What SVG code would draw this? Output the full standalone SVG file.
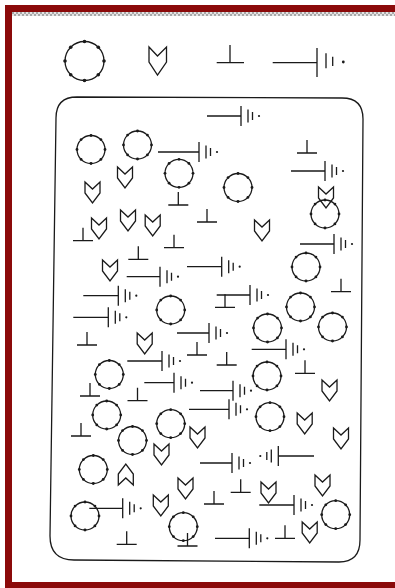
<svg xmlns="http://www.w3.org/2000/svg" xmlns:xlink="http://www.w3.org/1999/xlink" width="395" height="588" viewBox="0 0 395 588">
<style>
.s{fill:none;stroke:#1a1a1a;stroke-width:1.3;stroke-linecap:butt;stroke-linejoin:miter}
.d{fill:#1a1a1a;stroke:none}
.frame{fill:#8b0a0a}
</style>
<defs>
<pattern id="chk" width="4" height="4" patternUnits="userSpaceOnUse">
<rect width="4" height="4" fill="#e4e4e4"/>
<rect width="2" height="2" fill="#a8a8a8"/>
<rect x="2" y="2" width="2" height="2" fill="#a8a8a8"/>
</pattern>
<g id="cir">
<circle class="s" r="14"/>
<circle class="d" cx="14" cy="0" r="1.4"/><circle class="d" cx="-14" cy="0" r="1.4"/>
<circle class="d" cx="0" cy="14" r="1.4"/><circle class="d" cx="0" cy="-14" r="1.4"/>
<circle class="d" cx="9.9" cy="9.9" r="1.4"/><circle class="d" cx="-9.9" cy="9.9" r="1.4"/>
<circle class="d" cx="9.9" cy="-9.9" r="1.4"/><circle class="d" cx="-9.9" cy="-9.9" r="1.4"/>
</g>
<polygon id="chev" class="s" points="-7.5,0 0,7 7.5,0 7.5,11 0,21 -7.5,11"/>
<path id="tee" class="s" d="M0,-13V0M-10,0H10"/>
<g id="bars">
<path class="s" d="M0,-10V10M7,-6.5V6.5M11.5,-4V4"/>
<circle class="d" cx="18" cy="0" r="1.1"/>
</g>
</defs>

<g id="frame">
<rect x="0" y="0" width="395" height="588" fill="#ffffff"/>
<rect class="frame" x="5" y="5" width="390" height="7"/>
<rect x="12" y="12" width="383" height="4" fill="url(#chk)"/>
<rect class="frame" x="5" y="5" width="7" height="583"/>
<rect class="frame" x="5" y="582" width="390" height="6"/>
</g>

<g id="legend">
<g id="legend-circle">
<circle class="s" cx="84.5" cy="61" r="19.5" stroke-width="1.5"/>
<circle class="d" cx="104" cy="61" r="1.8"/><circle class="d" cx="65" cy="61" r="1.8"/>
<circle class="d" cx="84.5" cy="80.5" r="1.8"/><circle class="d" cx="84.5" cy="41.5" r="1.8"/>
<circle class="d" cx="98.3" cy="74.8" r="1.8"/><circle class="d" cx="70.7" cy="74.8" r="1.8"/>
<circle class="d" cx="98.3" cy="47.2" r="1.8"/><circle class="d" cx="70.7" cy="47.2" r="1.8"/>
</g>
<polygon id="legend-chevron" class="s" stroke-width="1.5" points="149,47 157.5,56 166.5,47 166.5,62 157.5,75 149,62"/>
<path id="legend-tee" class="s" stroke-width="1.5" d="M230,45V62.7M216.7,62.7H244"/>
<g id="legend-battery">
<path class="s" stroke-width="1.5" d="M272.7,62.7H317M317,48V77M326,53.3V68.3M332.7,56.7V66"/>
<circle class="d" cx="343.3" cy="62" r="1.4"/>
</g>
</g>

<path id="box" class="s" stroke-width="1.4" d="M77,97 L342,98 Q363,98 363,119 L360,540 Q360,562 339,562 L74,560 Q50,560 50,536 L56,118 Q56,97 77,97 Z"/>

<g id="circles">
<use href="#cir" x="91" y="149.5"/>
<use href="#cir" x="137.5" y="145"/>
<use href="#cir" x="179" y="173.3"/>
<use href="#cir" x="238" y="187.5"/>
<use href="#cir" x="325" y="214"/>
<use href="#cir" x="306" y="267"/>
<use href="#cir" x="170.7" y="310"/>
<use href="#cir" x="300.5" y="307"/>
<use href="#cir" x="267.5" y="328"/>
<use href="#cir" x="332.5" y="327"/>
<use href="#cir" x="109.3" y="374.5"/>
<use href="#cir" x="267" y="376"/>
<use href="#cir" x="106.7" y="415"/>
<use href="#cir" x="170.7" y="423.7"/>
<use href="#cir" x="270" y="416.7"/>
<use href="#cir" x="132.5" y="440.5"/>
<use href="#cir" x="93.3" y="469.5"/>
<use href="#cir" x="85" y="516"/>
<use href="#cir" x="183.3" y="526.7"/>
<use href="#cir" x="335.7" y="514.7"/>
</g>

<g id="chevrons">
<use href="#chev" x="92.5" y="182"/>
<use href="#chev" x="125" y="167"/>
<use href="#chev" x="326" y="187"/>
<use href="#chev" x="99" y="218"/>
<use href="#chev" x="128" y="210"/>
<use href="#chev" x="152.7" y="215"/>
<use href="#chev" x="262" y="220"/>
<use href="#chev" x="110" y="260"/>
<use href="#chev" x="144.7" y="333"/>
<use href="#chev" x="329.5" y="380"/>
<use href="#chev" x="304.7" y="413"/>
<use href="#chev" x="341" y="428"/>
<use href="#chev" x="197.5" y="427"/>
<use href="#chev" x="161.5" y="444"/>
<use href="#chev" x="185.5" y="478"/>
<use href="#chev" x="160.8" y="495"/>
<use href="#chev" x="268.5" y="482"/>
<use href="#chev" x="322.5" y="475"/>
<use href="#chev" x="309.7" y="522"/>
<use href="#chev" transform="translate(125.8,485) scale(1,-1)"/>
</g>

<g id="tees">
<use href="#tee" x="178.3" y="205"/>
<use href="#tee" x="307" y="153"/>
<use href="#tee" x="207" y="222"/>
<use href="#tee" x="83" y="240.7"/>
<use href="#tee" x="174" y="247.7"/>
<use href="#tee" x="138.3" y="259.3"/>
<use href="#tee" x="341" y="291.7"/>
<use href="#tee" x="225" y="307.3"/>
<use href="#tee" x="87" y="345"/>
<use href="#tee" x="197" y="355"/>
<use href="#tee" x="226.7" y="365"/>
<use href="#tee" x="305" y="373.3"/>
<use href="#tee" x="90" y="396"/>
<use href="#tee" x="137.5" y="400.7"/>
<use href="#tee" x="81" y="436"/>
<use href="#tee" x="240.7" y="492.3"/>
<use href="#tee" x="214" y="504"/>
<use href="#tee" x="285" y="538.3"/>
<use href="#tee" x="126.7" y="544.3"/>
<use href="#tee" x="187.5" y="546"/>
</g>

<g id="batteries">
<path class="s" d="M207,116H241M158,152H199M291,171H325M300,244H334M187,266.7H221.7M126.7,276.7H160M83.3,295.7H118.3M73.3,317.3H108.3M216.7,295H250M177,333H209M251.7,349.3H286M127.3,361H162M144.3,382.7H174M200,390.7H233M189,409.3H229M200,463H232M278.3,456H314M259.3,505H294M215,538.3H249.3M89.3,508.3H122.7"/>
<use href="#bars" x="241" y="116"/>
<use href="#bars" x="199" y="152"/>
<use href="#bars" x="325" y="171"/>
<use href="#bars" x="334" y="244"/>
<use href="#bars" x="221.7" y="266.7"/>
<use href="#bars" x="160" y="276.7"/>
<use href="#bars" x="118.3" y="295.7"/>
<use href="#bars" x="108.3" y="317.3"/>
<use href="#bars" x="250" y="295"/>
<use href="#bars" x="209" y="333"/>
<use href="#bars" x="286" y="349.3"/>
<use href="#bars" x="162" y="361"/>
<use href="#bars" x="174" y="382.7"/>
<use href="#bars" x="233" y="390.7"/>
<use href="#bars" x="229" y="409.3"/>
<use href="#bars" x="232" y="463"/>
<use href="#bars" transform="translate(278.3,456) scale(-1,1)"/>
<use href="#bars" x="294" y="505"/>
<use href="#bars" x="249.3" y="538.3"/>
<use href="#bars" x="122.7" y="508.3"/>
</g>
</svg>
